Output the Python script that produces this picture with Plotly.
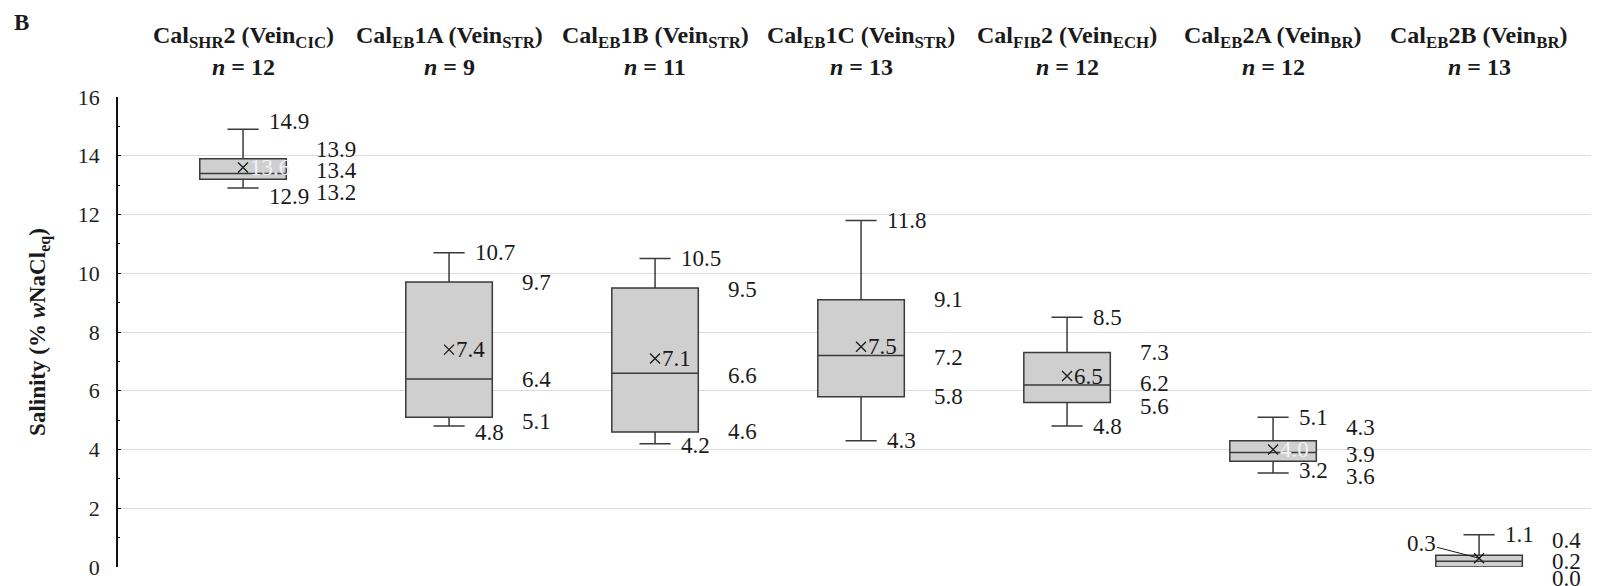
import plotly.graph_objects as go

# ---------------- data ----------------
groups = [
    "Cal<sub>SHR</sub>2 (Vein<sub>CIC</sub>)",
    "Cal<sub>EB</sub>1A (Vein<sub>STR</sub>)",
    "Cal<sub>EB</sub>1B (Vein<sub>STR</sub>)",
    "Cal<sub>EB</sub>1C (Vein<sub>STR</sub>)",
    "Cal<sub>FIB</sub>2 (Vein<sub>ECH</sub>)",
    "Cal<sub>EB</sub>2A (Vein<sub>BR</sub>)",
    "Cal<sub>EB</sub>2B (Vein<sub>BR</sub>)",
]
n_counts = [12, 9, 11, 13, 12, 12, 13]
mins = [12.9, 4.8, 4.2, 4.3, 4.8, 3.2, 0.0]
q1s = [13.2, 5.1, 4.6, 5.8, 5.6, 3.6, 0.0]
medians = [13.4, 6.4, 6.6, 7.2, 6.2, 3.9, 0.2]
q3s = [13.9, 9.7, 9.5, 9.1, 7.3, 4.3, 0.4]
maxs = [14.9, 10.7, 10.5, 11.8, 8.5, 5.1, 1.1]
means = [13.6, 7.4, 7.1, 7.5, 6.5, 4.0, 0.3]
y_ticks = [0, 2, 4, 6, 8, 10, 12, 14, 16]

# ---------------- style ----------------
FONT = "Liberation Serif"
TXT = "#1a1a1a"
BOX_LINE = "#3a3a3a"
BOX_FILL = "#cfcfcf"
GRID = "#dcdcdc"

# vertical pixel nudges for crowded labels (style only)
label_yshift = {
    (0, "max"): 8, (0, "q3"): 9, (0, "med"): 3, (0, "q1"): -13, (0, "min"): -8,
    (1, "q1"): -4, (1, "min"): -6,
    (2, "q3"): -2, (2, "med"): -2, (2, "min"): -2,
    (3, "med"): -2,
    (4, "med"): 1, (4, "q1"): -4,
    (5, "q3"): 13, (5, "med"): -2, (5, "q1"): -15, (5, "min"): 3,
    (6, "q3"): 15, (6, "med"): 0, (6, "q1"): -11,
}
mean_label_color = {0: "#f2f2f2", 5: "#f2f2f2"}
mean_label_left = {6}

xs = list(range(len(groups)))
BOX_HALF = 0.3          # half box width (boxgap 0.4 -> width 0.6)
CAP_HALF = 0.3 * 0.36   # half cap width

fig = go.Figure()
fig.add_trace(go.Box(
    x=xs, q1=q1s, median=medians, q3=q3s,
    lowerfence=mins, upperfence=maxs,
    fillcolor=BOX_FILL,
    line=dict(color=BOX_LINE, width=1.5),
    whiskerwidth=0.36,
    boxpoints=False,
    hoverinfo="skip",
    showlegend=False,
))
fig.add_trace(go.Scatter(
    x=xs, y=means, mode="markers",
    marker=dict(symbol="x-thin", size=10, line=dict(color=TXT, width=1.3)),
    hoverinfo="skip", showlegend=False,
))

ann = []
LAB_SIZE = 23
lab_font = dict(family=FONT, size=LAB_SIZE, color=TXT)
for i in xs:
    # whisker labels
    for key, val in (("max", maxs[i]), ("min", mins[i])):
        if key == "min" and mins[i] == q1s[i]:
            continue
        ann.append(dict(x=i + CAP_HALF, y=val, xref="x", yref="y", text=f"{val:.1f}",
                        showarrow=False, xanchor="left", yanchor="middle", xshift=2,
                        yshift=label_yshift.get((i, key), 0), font=lab_font))
    # box labels
    for key, val in (("q3", q3s[i]), ("med", medians[i]), ("q1", q1s[i])):
        ann.append(dict(x=i + BOX_HALF, y=val, xref="x", yref="y", text=f"{val:.1f}",
                        showarrow=False, xanchor="left", yanchor="middle", xshift=9,
                        yshift=label_yshift.get((i, key), 0), font=lab_font))
    # mean label
    if i in mean_label_left:
        ann.append(dict(x=i, y=means[i], xref="x", yref="y", text=f"{means[i]:.1f}",
                        showarrow=True, arrowhead=0, arrowwidth=1, arrowcolor=TXT,
                        ax=-58, ay=-15, standoff=0, font=lab_font))
    else:
        ann.append(dict(x=i, y=means[i], xref="x", yref="y", text=f"{means[i]:.1f}",
                        showarrow=False, xanchor="left", yanchor="middle", xshift=5,
                        font=dict(family=FONT, size=LAB_SIZE,
                                  color=mean_label_color.get(i, TXT))))
    # headers
    ann.append(dict(x=i, y=1, xref="x", yref="paper", text=f"<b>{groups[i]}</b>",
                    showarrow=False, xanchor="center", yanchor="middle", yshift=60,
                    font=dict(family=FONT, size=24, color=TXT)))
    ann.append(dict(x=i, y=1, xref="x", yref="paper",
                    text=f"<b><i>n</i> = {n_counts[i]}</b>",
                    showarrow=False, xanchor="center", yanchor="middle", yshift=30,
                    font=dict(family=FONT, size=24, color=TXT)))

ann.append(dict(x=0, y=1, xref="paper", yref="paper", text="<b>B</b>", showarrow=False,
                xanchor="left", yanchor="middle", xshift=-106, yshift=75,
                font=dict(family=FONT, size=23, color=TXT)))

fig.update_layout(
    width=1599, height=586,
    margin=dict(l=110, r=0, t=89, b=27),
    paper_bgcolor="white", plot_bgcolor="white",
    annotations=ann,
    boxgap=0.4,
    xaxis=dict(range=[-0.607, 6.621], showgrid=False, zeroline=False,
               showticklabels=False, ticks="", showline=False),
    yaxis=dict(range=[0, 16], tickvals=y_ticks, showgrid=True, gridcolor=GRID,
               gridwidth=1.2, zeroline=False, showline=True, linecolor="#111111",
               linewidth=1.6, ticks="inside", ticklen=3, tickcolor="#111111",
               minor=dict(dtick=1, ticks="inside", ticklen=2, tickcolor="#111111",
                          showgrid=False),
               tickfont=dict(family=FONT, size=22, color="#222222"),
               ticklabelstandoff=12,
               title=dict(text="<b>Salinity (% <i>w</i>NaCl<sub>eq</sub>)</b>",
                          font=dict(family=FONT, size=23, color=TXT), standoff=26)),
)

fig.write_html("out.html")
